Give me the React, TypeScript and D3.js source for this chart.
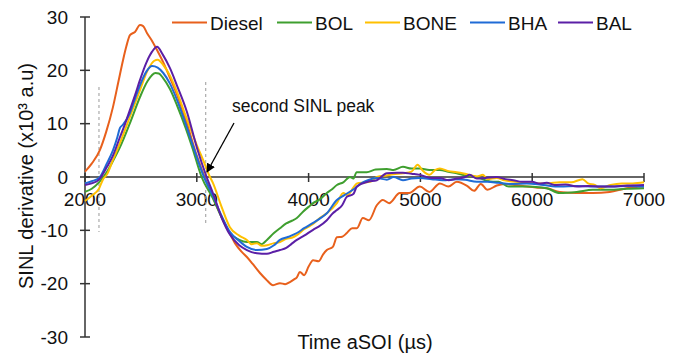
import React from "react";
import * as d3 from "d3";

const seriesNames = ["Diesel", "BOL", "BONE", "BHA", "BAL"];
const seriesColors = ["#E8601C", "#3F9F2F", "#FFC000", "#1F6BD6", "#5B1FA6"];

const xTicks = [2000, 3000, 4000, 5000, 6000, 7000];
const yTicks = [-30, -20, -10, 0, 10, 20, 30];

// [time, value] pairs
const dieselData: [number, number][] = [
  [2000, 1.0], [2060, 2.5], [2134, 5.1], [2190, 8.5], [2250, 13.1], [2300, 18], [2340, 21.9],
  [2370, 24.5], [2402, 26.6], [2447, 27.2], [2492, 28.5], [2520, 28.3], [2554, 27], [2600, 25.5],
  [2644, 23.8], [2700, 21.5], [2760, 18.6], [2822, 15.5], [2900, 10.8], [3000, 4], [3070, 0],
  [3100, -1.5], [3200, -6.5], [3300, -10.8], [3341, -12.4], [3400, -14], [3448, -15], [3500, -16.3],
  [3565, -18], [3620, -19.2], [3682, -20.3], [3744, -19.9], [3790, -20.1], [3833, -19.7],
  [3870, -19.2], [3895, -18.8], [3922, -17.8], [3960, -18.4], [4000, -16.8], [4040, -15.6],
  [4090, -15.8], [4130, -14.5], [4163, -13.7], [4217, -13.1], [4253, -11.3], [4300, -11.2],
  [4342, -10.5], [4390, -9.6], [4432, -9.6], [4485, -7.7], [4540, -8.1], [4610, -5.3],
  [4664, -4.3], [4720, -4.9], [4816, -3.0], [4900, -3.0], [4995, -1.8], [5080, -2.8],
  [5174, -1.2], [5250, -1.8], [5325, -0.9], [5420, -1.7], [5480, -2.6], [5540, -1.3],
  [5600, -2.4], [5683, -1.6], [5750, -1.3], [5850, -1.5], [5952, -1.8], [6050, -2.0],
  [6130, -2.1], [6246, -2.8], [6398, -3.0], [6541, -3.0], [6693, -2.8], [6845, -2.1], [7000, -1.8],
];

const bolData: [number, number][] = [
  [2000, -2.8], [2060, -2.2], [2125, -1], [2197, 1], [2250, 3], [2313, 5.6], [2402, 10.1],
  [2492, 15], [2560, 18], [2630, 19.5], [2660, 19.4], [2697, 18.6], [2760, 16.5], [2822, 13.5],
  [2900, 9.2], [2960, 5.5], [3043, 0], [3144, -4], [3220, -7.5], [3296, -10.5], [3380, -11.8],
  [3448, -12.2], [3538, -12.2], [3580, -12.6], [3627, -11.8], [3690, -10.5], [3744, -9.6],
  [3800, -8.7], [3850, -8.2], [3895, -7.7], [3950, -6.5], [4000, -5.6], [4040, -4.9],
  [4100, -4.2], [4163, -3], [4210, -2.3], [4253, -1.5], [4310, -1], [4370, 0], [4400, -0.3],
  [4430, 0.9], [4520, 0.9], [4600, 1.4], [4700, 1.5], [4760, 1.3], [4844, 1.9], [4920, 1.6],
  [4995, 1.6], [5080, 1.3], [5174, 1.3], [5250, 1.0], [5325, 0.7], [5400, 0.3], [5505, 0],
  [5580, -0.6], [5650, -0.9], [5700, -0.9], [5790, -1.8], [5900, -1.8], [5952, -1.8],
  [6060, -1.9], [6130, -2.1], [6246, -3.0], [6398, -2.8], [6541, -2.4], [6693, -2.4],
  [6845, -2.2], [7000, -2.1],
];

const boneData: [number, number][] = [
  [2000, -4.5], [2060, -3.5], [2125, -2.2], [2160, -0.5], [2197, 0.5], [2250, 3.2], [2313, 6.4],
  [2402, 11.3], [2492, 16.3], [2560, 20], [2620, 21.8], [2650, 22], [2700, 21], [2760, 19],
  [2822, 16], [2900, 11.5], [3000, 6], [3060, 3], [3118, 0], [3144, -1.1], [3220, -5.5],
  [3296, -9.4], [3380, -11], [3448, -11.8], [3490, -12.6], [3538, -12.4], [3580, -12.9],
  [3627, -12.8], [3690, -12.4], [3744, -12.2], [3800, -11.6], [3850, -11.4], [3895, -10.9],
  [3960, -9.8], [4040, -8.8], [4100, -7.7], [4163, -6.8], [4253, -4.9], [4310, -3],
  [4350, -3.4], [4400, -2], [4432, -1.2], [4520, -1.0], [4560, -0.8], [4610, 0], [4700, 0.3],
  [4760, 0.5], [4844, 0.7], [4920, 1.0], [4975, 2.3], [5020, 1.2], [5080, 0.4], [5130, 1.3],
  [5174, 1.6], [5250, 1.1], [5325, 0.9], [5400, 0.6], [5505, 0.1], [5560, 0.4], [5600, -0.4],
  [5683, -0.2], [5750, -0.6], [5850, -0.9], [5952, -1.0], [6050, -1.2], [6130, -1.2],
  [6246, -1.0], [6350, -1.0], [6450, -0.4], [6500, -1.2], [6560, -1.5], [6610, -2.1],
  [6700, -1.5], [6800, -1.2], [6900, -1.2], [7000, -1.0],
];

const bhaData: [number, number][] = [
  [2000, -1.2], [2060, -0.8], [2125, -0.2], [2197, 2.6], [2250, 5], [2290, 7.5], [2313, 9.2],
  [2340, 9.8], [2402, 12], [2450, 14.8], [2492, 17.2], [2550, 19.8], [2600, 20.8], [2650, 20.5],
  [2700, 19.5], [2760, 17.5], [2822, 14.5], [2900, 10], [2960, 6.2], [3064, 0], [3144, -3.5],
  [3220, -7.2], [3296, -10.3], [3380, -12], [3448, -13.1], [3538, -13.7], [3627, -13.5],
  [3690, -12.8], [3744, -11.8], [3820, -11.2], [3895, -10.5], [3960, -9.6], [4040, -8.6],
  [4100, -7.8], [4163, -6.8], [4253, -4.3], [4320, -3.4], [4396, -2.4], [4470, -1.2],
  [4530, -0.6], [4610, -0.2], [4700, -0.5], [4760, 0], [4844, -0.6], [4920, -0.3], [4995, -0.2],
  [5100, -0.4], [5200, -0.6], [5325, -0.4], [5400, -0.5], [5505, -0.9], [5600, -0.9],
  [5700, -1.1], [5800, -1.3], [5952, -1.2], [6100, -1.5], [6250, -1.8], [6400, -1.7],
  [6550, -1.8], [6700, -1.8], [6850, -1.7], [7000, -1.8],
];

const balData: [number, number][] = [
  [2000, -1.5], [2060, -1.2], [2125, -0.5], [2197, 1.9], [2250, 4], [2313, 7.5], [2350, 9.5],
  [2402, 12.6], [2450, 15.5], [2492, 18.2], [2550, 21.5], [2600, 23.5], [2644, 24.4],
  [2697, 22.9], [2760, 20.4], [2822, 17.2], [2912, 12.2], [3001, 5.5], [3088, 0], [3144, -3],
  [3220, -7.5], [3296, -10.8], [3380, -12.8], [3448, -13.7], [3538, -14.3], [3627, -14.4],
  [3690, -14], [3744, -13.7], [3800, -13.3], [3850, -12.5], [3895, -11.8], [3960, -11],
  [4040, -9.9], [4090, -9.3], [4163, -8.1], [4217, -6.8], [4253, -6.2], [4300, -5.3],
  [4342, -3.7], [4400, -3.2], [4432, -1.8], [4530, -0.9], [4610, -0.6], [4700, 0.7],
  [4790, 0.8], [4844, 0.8], [4920, 0.6], [4995, 0.4], [5100, -0.2], [5174, -0.2], [5250, -0.6],
  [5325, -0.3], [5400, 0], [5440, 0.4], [5505, -0.3], [5580, -0.2], [5680, 0], [5760, -0.4],
  [5830, -0.6], [5910, -0.9], [6000, -0.9], [6060, -1.2], [6130, -1.1], [6200, -1.5],
  [6300, -1.4], [6400, -1.8], [6500, -1.7], [6600, -1.8], [6700, -1.8], [6850, -1.6], [7000, -1.5],
];

const allData = [dieselData, bolData, boneData, bhaData, balData];

const dashedMarkers = [2125, 3080];
const annotationText = "second SINL peak";

const W = 680;
const H = 354;
const FONT = "'Liberation Sans', Arial, sans-serif";

export default function App() {
  const x = d3.scaleLinear().domain([2000, 7000]).range([85, 644]);
  const y = d3.scaleLinear().domain([-30, 30]).range([337, 17]);
  const line = d3
    .line<[number, number]>()
    .x((d) => x(d[0]))
    .y((d) => y(d[1]))
    .curve(d3.curveMonotoneX);

  const legendX = [172, 277, 365, 470, 558];
  const axisColor = "#333";

  return (
    <svg
      width={W}
      height={H}
      style={{ position: "absolute", left: 0, top: 0, background: "#fff" }}
      fontFamily={FONT}
    >
      <rect width={W} height={H} fill="#fff" />
      {/* x tick labels (behind curves) */}
      {xTicks.map((t) => (
        <text key={t} x={x(t)} y={206} fontSize={19} textAnchor="middle" fill="#111">
          {t}
        </text>
      ))}
      {/* y axis */}
      <line x1={x(2000)} x2={x(2000)} y1={y(30)} y2={y(-30)} stroke={axisColor} strokeWidth={1.5} />
      {yTicks.map((v) => (
        <g key={v}>
          <line x1={x(2000) - 5} x2={x(2000) + 5} y1={y(v)} y2={y(v)} stroke={axisColor} strokeWidth={1.5} />
          <text x={68} y={y(v)} dy="0.35em" fontSize={19} textAnchor="end" fill="#111">
            {v}
          </text>
        </g>
      ))}
      {/* x axis */}
      <line x1={x(2000)} x2={x(7000)} y1={y(0)} y2={y(0)} stroke={axisColor} strokeWidth={1.5} />
      {xTicks.map((t) => (
        <line key={t} x1={x(t)} x2={x(t)} y1={y(0) - 4} y2={y(0) + 5} stroke={axisColor} strokeWidth={1.5} />
      ))}
      {/* dashed markers */}
      <line x1={x(dashedMarkers[0])} x2={x(dashedMarkers[0])} y1={87} y2={232} stroke="#9a9a9a" strokeWidth={1} strokeDasharray="3,3" />
      <line x1={x(dashedMarkers[1])} x2={x(dashedMarkers[1])} y1={82} y2={226} stroke="#9a9a9a" strokeWidth={1} strokeDasharray="3,3" />
      {/* series */}
      {allData.map((d, i) => (
        <path key={i} d={line(d) || ""} fill="none" stroke={seriesColors[i]} strokeWidth={2} strokeLinejoin="round" />
      ))}
      {/* annotation */}
      <text x={232} y={112} fontSize={17.5} fill="#111">
        {annotationText}
      </text>
      <defs>
        <marker id="arrow" viewBox="0 0 10 10" refX="9" refY="5" markerWidth="7" markerHeight="7" orient="auto">
          <path d="M0,0 L10,5 L0,10 z" fill="#000" />
        </marker>
      </defs>
      <line x1={234} y1={123} x2={207} y2={172} stroke="#000" strokeWidth={1.3} markerEnd="url(#arrow)" />
      {/* legend */}
      {seriesNames.map((n, i) => (
        <g key={n}>
          <line x1={legendX[i]} x2={legendX[i] + 35} y1={22.5} y2={22.5} stroke={seriesColors[i]} strokeWidth={2} />
          <text x={legendX[i] + 38} y={29.5} fontSize={19} fill="#111">
            {n}
          </text>
        </g>
      ))}
      {/* axis titles */}
      <text
        transform={`translate(33, ${176}) rotate(-90)`}
        textAnchor="middle"
        fontSize={20}
        fill="#111"
      >
        SINL derivative (x10³ a.u)
      </text>
      <text x={365} y={349} textAnchor="middle" fontSize={20} fill="#111">
        Time aSOI (µs)
      </text>
    </svg>
  );
}
